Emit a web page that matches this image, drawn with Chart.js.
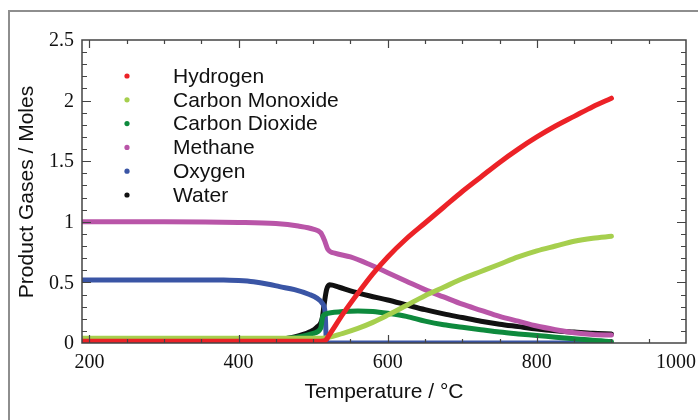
<!DOCTYPE html>
<html>
<head>
<meta charset="utf-8">
<script src="https://cdn.jsdelivr.net/npm/chart.js@4.4.1/dist/chart.umd.min.js"></script>
<style>
  html, body { margin: 0; padding: 0; background: #fff; }
  #wrap { width: 698px; height: 420px; position: relative; }
</style>
</head>
<body>
<div id="wrap"><canvas id="chart" width="698" height="420"></canvas></div>
<script>
// [temperature °C, moles]
const hydrogen = [[190,0.015],[510,0.015],[516,0.02],[522,0.07],[540,0.24],[560,0.41],[580,0.57],[600,0.71],[625,0.86],[650,0.99],[675,1.12],[700,1.25],[725,1.37],[750,1.49],[775,1.6],[800,1.7],[825,1.79],[850,1.87],[875,1.95],[900,2.02]];
const carbonMonoxide = [[190,0.04],[512,0.04],[540,0.08],[560,0.12],[580,0.17],[600,0.23],[625,0.31],[650,0.39],[675,0.46],[700,0.53],[725,0.59],[750,0.65],[775,0.71],[800,0.76],[825,0.8],[850,0.84],[875,0.865],[900,0.88]];
const carbonDioxide = [[190,0.02],[400,0.02],[450,0.03],[480,0.05],[500,0.08],[510,0.12],[513,0.22],[520,0.245],[540,0.26],[560,0.265],[580,0.26],[600,0.245],[625,0.22],[650,0.18],[675,0.15],[700,0.13],[725,0.11],[750,0.09],[775,0.075],[800,0.062],[825,0.048],[850,0.035],[875,0.022],[900,0.012]];
const methane = [[190,1.0],[300,1.0],[400,0.995],[450,0.985],[480,0.965],[500,0.94],[510,0.91],[515,0.85],[520,0.77],[530,0.74],[550,0.71],[575,0.65],[600,0.58],[625,0.51],[650,0.44],[675,0.38],[700,0.32],[725,0.27],[750,0.22],[775,0.18],[800,0.14],[825,0.11],[850,0.085],[875,0.07],[900,0.065]];
const oxygen = [[190,0.52],[380,0.52],[400,0.515],[420,0.505],[440,0.485],[455,0.465],[475,0.44],[495,0.4],[505,0.37],[512,0.33],[516,0.25],[518,0.0],[900,0.0]];
const water = [[190,0.0],[395,0.0],[420,0.01],[450,0.025],[475,0.05],[495,0.09],[505,0.13],[512,0.2],[515,0.33],[518,0.44],[522,0.48],[535,0.46],[550,0.43],[575,0.39],[600,0.355],[625,0.315],[650,0.275],[675,0.24],[700,0.21],[725,0.18],[750,0.155],[775,0.135],[800,0.115],[825,0.1],[850,0.09],[875,0.08],[900,0.075]];

const seriesNames = ['Hydrogen', 'Carbon Monoxide', 'Carbon Dioxide', 'Methane', 'Oxygen', 'Water'];
const seriesData = [hydrogen, carbonMonoxide, carbonDioxide, methane, oxygen, water];
const seriesColors = ['#ec2227', '#a6cf4e', '#0e8a3d', '#b955a8', '#3a55a5', '#111111'];

const xTickLabels = [200, 400, 600, 800, 1000];
const yTickLabels = [0, 0.5, 1, 1.5, 2, 2.5];

const datasets = seriesData.map((pts, i) => ({
    label: seriesNames[i],
    data: pts.map(p => ({ x: p[0], y: p[1] })),
    borderColor: seriesColors[i],
    backgroundColor: seriesColors[i],
    borderWidth: 5,
    borderCapStyle: 'round',
    borderJoinStyle: 'round',
    pointRadius: 0,
    cubicInterpolationMode: 'monotone',
    order: i
}));

// frame, ticks, tick labels, titles and the in-plot legend
const decorations = {
    id: 'decorations',
    beforeDraw(chart) {
        const ctx = chart.ctx;
        ctx.save();
        ctx.fillStyle = '#fff';
        ctx.fillRect(0, 0, chart.width, chart.height);
        ctx.strokeStyle = '#8e8e8e';
        ctx.lineWidth = 2;
        ctx.beginPath();
        ctx.moveTo(9, 430);
        ctx.lineTo(9, 11);
        ctx.lineTo(710, 11);
        ctx.stroke();
        ctx.restore();
    },
    afterDraw(chart) {
        const ctx = chart.ctx;
        const a = chart.chartArea;
        const xs = chart.scales.x, ys = chart.scales.y;
        ctx.save();

        // ticks
        ctx.strokeStyle = '#444';
        ctx.lineWidth = 1.2;
        ctx.beginPath();
        for (let t = 200; t < 1000; t += 50) {
            const px = Math.round(xs.getPixelForValue(t)) + 0.5;
            const len = t % 200 === 0 ? 8 : 4;
            ctx.moveTo(px, a.bottom); ctx.lineTo(px, a.bottom - len);
            ctx.moveTo(px, a.top); ctx.lineTo(px, a.top + len);
        }
        for (let k = 1; k < 25; k++) {
            const py = Math.round(ys.getPixelForValue(k / 10)) + 0.5;
            const len = k % 5 === 0 ? 9 : 5;
            ctx.moveTo(a.left, py); ctx.lineTo(a.left + len, py);
            ctx.moveTo(a.right, py); ctx.lineTo(a.right - len, py);
        }
        ctx.stroke();

        // box
        ctx.lineWidth = 1.5;
        ctx.strokeRect(a.left, a.top, a.right - a.left, a.bottom - a.top);

        // tick labels
        ctx.fillStyle = '#111';
        ctx.font = '20px "Liberation Serif", "Times New Roman", serif';
        ctx.textBaseline = 'middle';
        ctx.textAlign = 'right';
        yTickLabels.forEach(v => {
            ctx.fillText(String(v), a.left - 8, ys.getPixelForValue(v) + 1);
        });
        ctx.textAlign = 'center';
        xTickLabels.forEach(v => {
            const txt = String(v);
            let px = xs.getPixelForValue(v);
            const w = ctx.measureText(txt).width;
            if (px + w / 2 > chart.width - 2) px = chart.width - 2 - w / 2;
            ctx.fillText(txt, px, a.bottom + 20);
        });

        // axis titles
        ctx.font = '21px "Liberation Sans", Arial, sans-serif';
        ctx.fillText('Temperature / °C', (a.left + a.right) / 2, 392);
        ctx.save();
        ctx.translate(27, 192);
        ctx.rotate(-Math.PI / 2);
        ctx.fillText('Product Gases / Moles', 0, 0);
        ctx.restore();

        // legend
        ctx.textAlign = 'left';
        chart.data.datasets.forEach((ds, i) => {
            const cy = 76 + i * 23.8;
            ctx.fillStyle = ds.borderColor;
            ctx.beginPath();
            ctx.arc(127, cy, 2.6, 0, Math.PI * 2);
            ctx.fill();
            ctx.fillStyle = '#111';
            ctx.fillText(ds.label, 173, cy + 1);
        });

        ctx.restore();
    }
};

new Chart(document.getElementById('chart'), {
    type: 'line',
    data: { datasets: datasets },
    options: {
        responsive: false,
        animation: false,
        layout: { padding: { left: 82, right: 12, top: 40, bottom: 77 } },
        plugins: { legend: { display: false }, tooltip: { enabled: false } },
        scales: {
            x: { type: 'linear', min: 190, max: 1000, display: false },
            y: { type: 'linear', min: 0, max: 2.5, display: false }
        }
    },
    plugins: [decorations]
});
</script>
</body>
</html>
